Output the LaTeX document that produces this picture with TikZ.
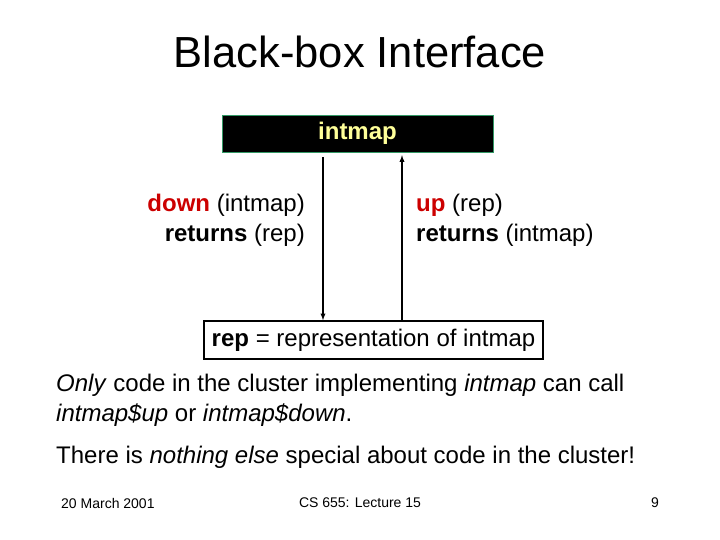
\documentclass[tikz,border=0pt]{standalone}
\usepackage{fontspec}
\setmainfont{Liberation Sans}
\usepackage{xcolor}
\definecolor{slidered}{RGB}{204,0,0}
\definecolor{mapyellow}{RGB}{255,255,153}
\definecolor{mapgreen}{RGB}{51,153,102}
\begin{document}
\begin{tikzpicture}[x=1pt,y=-1pt,
  body/.style={font=\fontsize{24}{28}\selectfont, inner sep=0pt},
  foot/.style={font=\fontsize{14}{16}\selectfont, inner sep=0pt}]
  \useasboundingbox (0,0) rectangle (720,540);
  % Title
  \node[font=\fontsize{43.5}{48}\selectfont, inner sep=0pt] (title) at (360,52) {Black-box Interface};
  % Boxes
  \node[draw=mapgreen, fill=black, minimum width=271, minimum height=37, inner sep=0pt,
        text=mapyellow, font=\fontsize{24}{28}\selectfont\bfseries] (intmap) at (357.5,133.5) {intmap};
  \node[draw, line width=1.5pt, minimum width=339, minimum height=38, inner sep=0pt,
        font=\fontsize{24}{28}\selectfont] (rep) at (373.5,340) {\textbf{rep} = representation of intmap};
  % Arrows
  \coordinate (dx) at (323,0);
  \coordinate (ux) at (402,0);
  \draw[line width=1.3pt,-latex] ([yshift=-5pt]dx |- intmap.south) -- (dx |- rep.north);
  \draw[line width=1.3pt,-latex] (ux |- rep.north) -- ([yshift=-3pt]ux |- intmap.south);
  % Labels
  \node[body, anchor=east] (down) at (305,205) {\textcolor{slidered}{\textbf{down}} (intmap)};
  \node[body, anchor=east] (dret) at (305,235) {\textbf{returns} (rep)};
  \node[body, anchor=west] (up) at (416,205) {\textcolor{slidered}{\textbf{up}} (rep)};
  \node[body, anchor=west] (uret) at (416,235) {\textbf{returns} (intmap)};
  % Text
  \node[body, anchor=west] (l1) at (56,385) {\textit{Only} code in the cluster implementing \textit{intmap} can call};
  \node[body, anchor=west] (l2) at (56,415) {\textit{intmap\$up} or \textit{intmap\$down}.};
  \node[body, anchor=west] (l3) at (56,457) {There is \textit{nothing else} special about code in the cluster!};
  % Footer
  \node[foot, anchor=west] (date) at (61,503) {20 March 2001};
  \node[foot] (course) at (360,503) {CS 655: Lecture 15};
  \node[foot, anchor=east] (page) at (659,503) {9};
\end{tikzpicture}
\end{document}
